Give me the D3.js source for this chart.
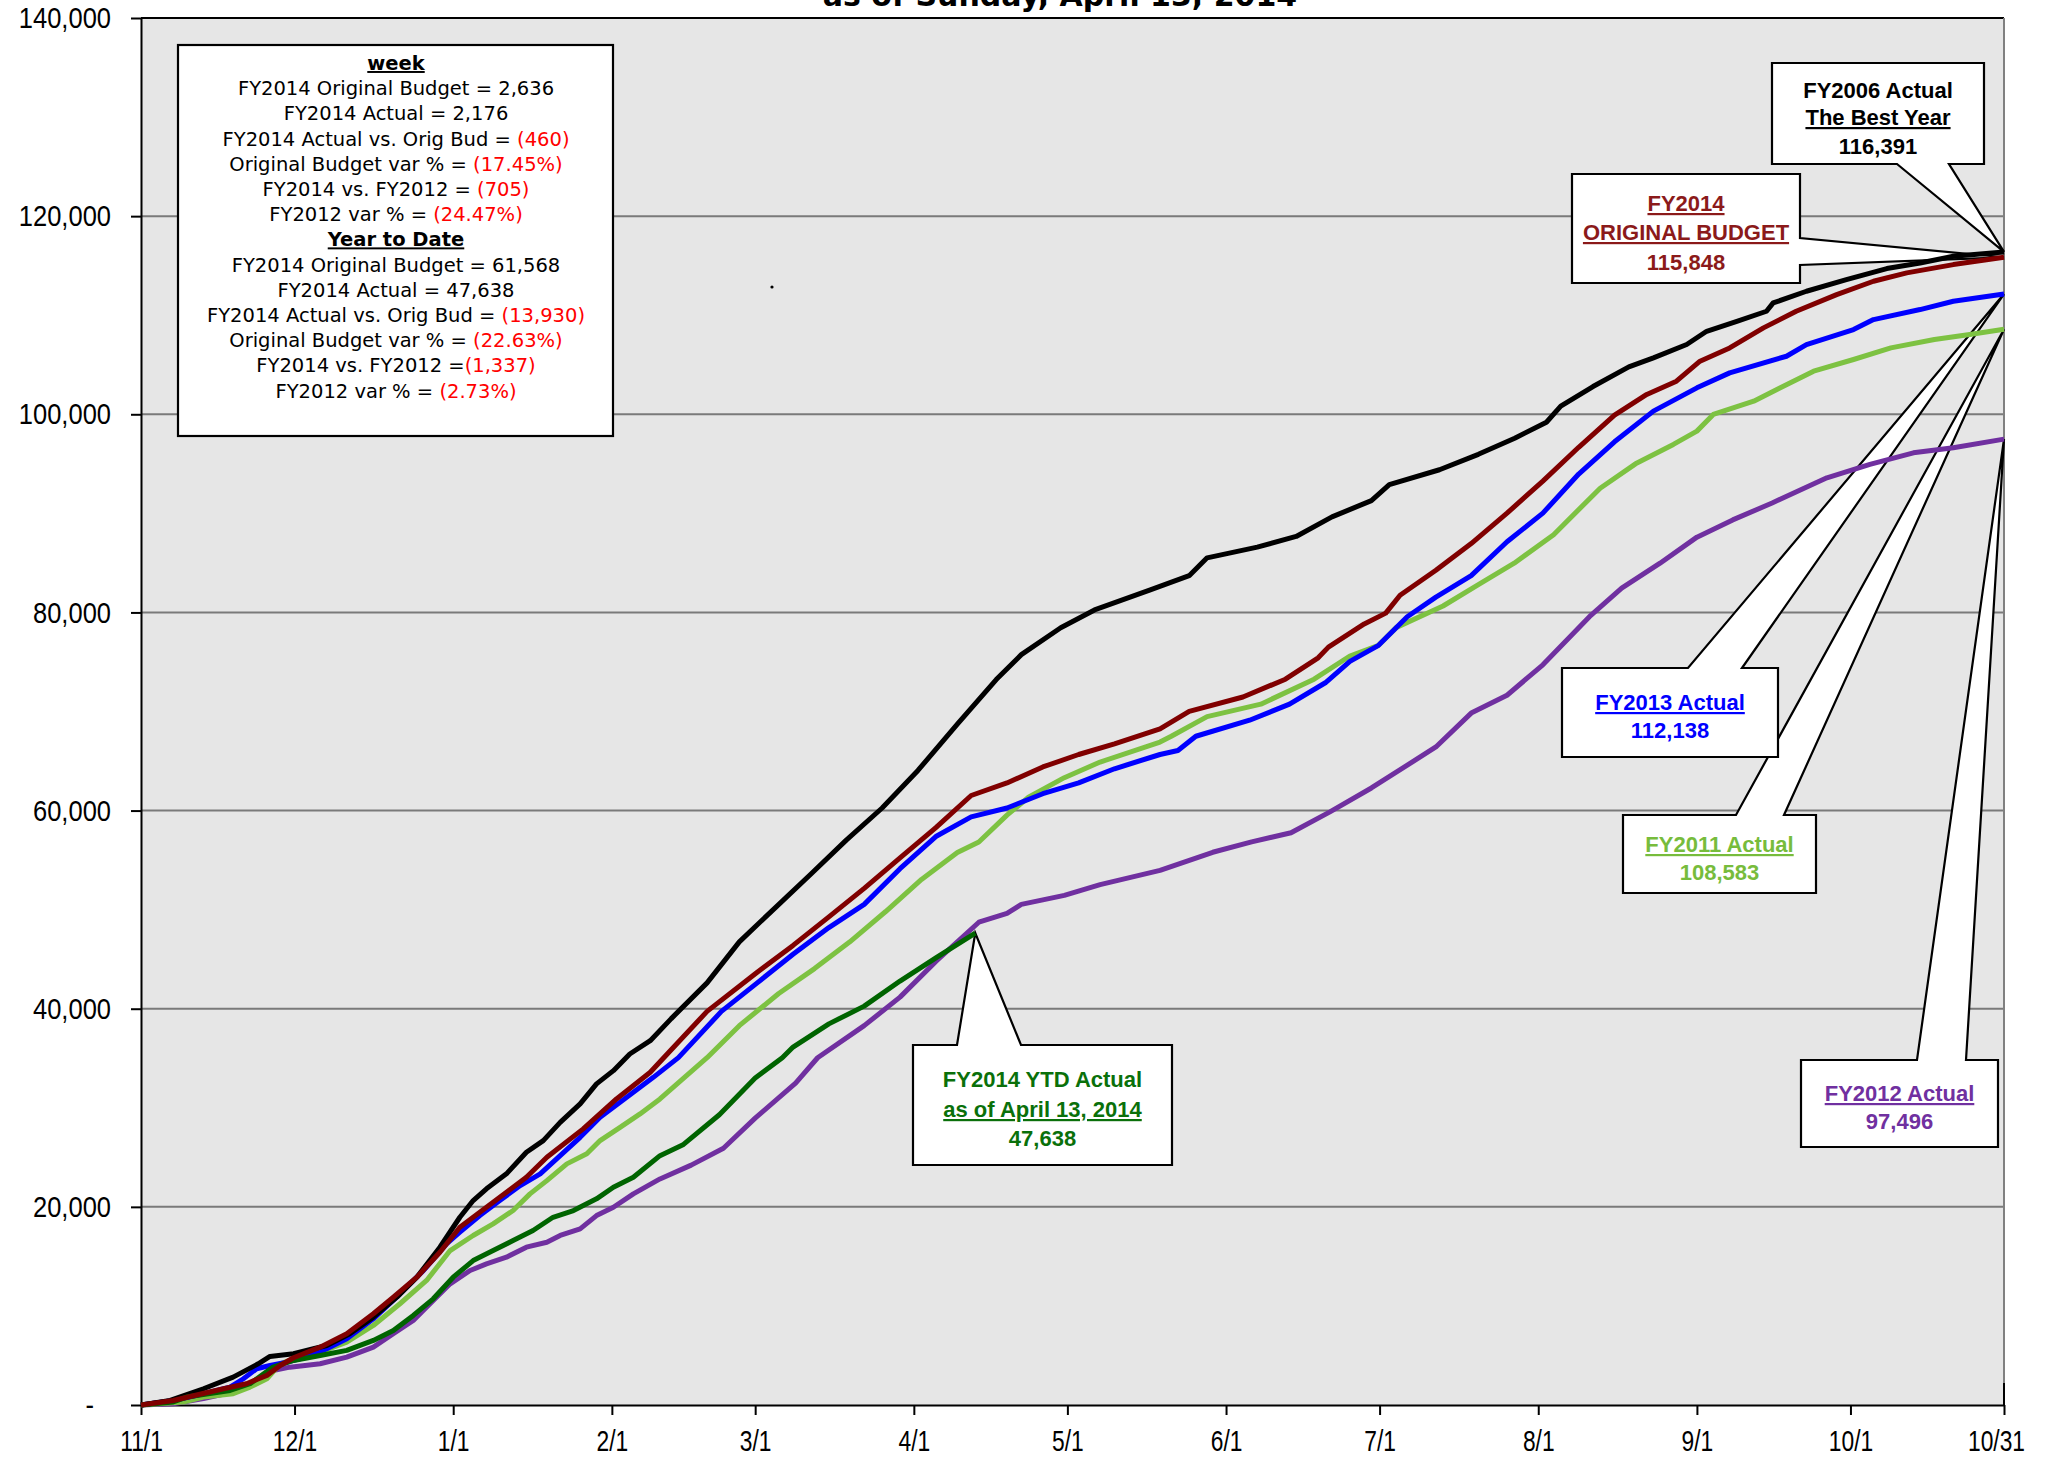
<!DOCTYPE html>
<meta charset="utf-8">
<head>
  <style>
    body { margin: 0; background: #fff; }
    .tick text {
      font-family: "Liberation Sans", Arial, sans-serif;
      font-size: 30px;
      fill: #000;
    }
    .info text {
      font-family: "DejaVu Sans", sans-serif;
      font-size: 19.5px;
      fill: #000;
    }
    .callout text {
      font-family: "Liberation Sans", Arial, sans-serif;
      font-size: 22px;
      font-weight: bold;
    }
    .title {
      font-family: "DejaVu Sans", sans-serif;
      font-size: 30px;
      font-weight: bold;
    }
  </style>
</head>
<script src="https://d3js.org/d3.v7.min.js"></script>
<div id="my_chart"></div>
<script>
// fiscal year runs 11/1 .. 10/31, x = days since 11/1
const monthDays = [0, 30, 61, 92, 120, 151, 181, 212, 242, 273, 304, 334, 364];
const monthLabels = ["11/1", "12/1", "1/1", "2/1", "3/1", "4/1", "5/1", "6/1", "7/1", "8/1", "9/1", "10/1", "10/31"];
const yTicks = [0, 20000, 40000, 60000, 80000, 100000, 120000, 140000];

// cumulative values [day, total]
const fy2006 = [[0,0],[5.7,460],[12.2,1640],[18,2810],[22.9,4160],[25.2,4900],[29.8,5170],[33.7,5680],[36.3,6010],[40.8,7190],[45.4,8870],[50,10880],[53.9,12900],[58.4,15930],[62.3,18950],[64.9,20640],[67.5,21820],[71.4,23330],[75.3,25510],[78.6,26690],[81.9,28530],[85.8,30390],[89,32410],[92.3,33750],[95.5,35430],[99.5,36770],[103.6,39000],[110.6,42610],[116.9,46750],[123.9,50180],[130.9,53600],[137.8,57020],[144.8,60260],[151.8,64050],[159.5,68720],[167.1,73220],[172,75740],[179.7,78450],[186.3,80250],[197.2,82270],[204.8,83710],[208.3,85510],[218.1,86590],[225.7,87670],[232.7,89650],[240.4,91280],[243.9,92890],[253.7,94400],[261.3,95960],[268.4,97580],[274.6,99200],[277.4,100820],[283.7,102800],[290.7,104780],[295.5,105700],[302,107040],[305.9,108380],[311.8,109390],[317.6,110400],[318.9,111240],[325.4,112420],[333.2,113600],[341.1,114710],[347.6,115270],[354.1,115950],[364,116391]];
const fy2014Budget = [[0,0],[6.3,460],[16.1,1640],[20.6,2150],[24.6,2990],[27.2,3990],[29.8,4770],[35,5840],[40.2,7190],[45.4,9210],[49.3,10880],[53.9,12900],[58.4,15420],[62.3,17940],[68.8,20460],[75.3,22990],[79.3,25000],[86.4,27870],[92.9,30890],[99.5,33580],[101.5,34700],[110.6,39730],[120.4,43690],[127.4,46390],[134.4,49270],[141.3,52150],[148.3,55220],[155.3,58280],[162.2,61520],[169.2,62790],[176.2,64400],[183.2,65660],[190.2,66740],[199.1,68250],[204.8,70020],[215.3,71460],[223.6,73260],[230,75420],[232,76500],[239,78840],[243.2,79930],[246,81730],[253,84250],[259.9,86950],[266.9,90020],[273.9,93260],[280.9,96670],[287.9,99920],[294.2,102000],[300,103340],[304.6,105360],[310.4,106700],[317,108720],[323.4,110400],[331.3,112080],[338.5,113430],[345,114270],[354.1,115110],[364,115848]];
const fy2013 = [[0,0],[6.3,460],[12.2,1140],[17.4,1810],[20,2650],[22.6,3660],[25.2,3990],[28.5,4330],[32.4,4830],[36.3,5680],[40.2,6690],[45.4,8700],[50.6,11220],[55.2,13580],[59.7,16270],[62.3,17440],[66.2,19120],[70.1,20640],[74.1,22150],[78,23330],[81.9,25170],[85.8,27020],[89.7,29040],[96.2,31560],[100.1,33070],[105,35060],[113.4,39730],[120.4,42610],[127.4,45490],[134.4,48190],[141.3,50530],[148.3,54130],[155.3,57380],[162.2,59360],[169.2,60260],[176.2,61700],[183.2,62790],[190.2,64220],[199.1,65660],[202.6,66060],[206.1,67500],[216.6,69120],[224.4,70740],[231.4,72900],[236.2,75060],[241.8,76680],[247.4,79560],[253,81540],[259.9,83710],[266.9,87130],[273.9,90020],[280.9,93970],[287.9,97220],[295.5,100320],[304,102670],[310.4,104180],[321.5,105860],[325.4,107040],[334.6,108550],[338.5,109560],[347.6,110570],[354.1,111410],[364,112138]];
const fy2011 = [[0,0],[8.3,300],[12.2,800],[18,1140],[21.3,1810],[24.6,2650],[27.2,4160],[29.8,4670],[35,5340],[40.2,6350],[45.4,8030],[50.6,10220],[55.8,12570],[60.4,15590],[64.9,17110],[68.8,18290],[72.7,19630],[76,21310],[79.3,22650],[83.2,24340],[87.1,25350],[89.7,26690],[93.6,28030],[97.5,29380],[101.4,30890],[110.6,35060],[116.9,38290],[124.6,41530],[131.6,44050],[138.5,46750],[145.5,49810],[152.5,53050],[159.5,55760],[163.7,56830],[169.2,59540],[173.4,61340],[180.4,63320],[187.4,64900],[199.1,66920],[201.3,67500],[208.3,69480],[218.8,70740],[229.2,73260],[236.2,75600],[241.8,76680],[245.3,78490],[254.4,80650],[261.3,82810],[268.3,84970],[276,87850],[285.1,92540],[292,95000],[299.4,96960],[304,98300],[307.2,99980],[315.1,101320],[320.3,102670],[326.8,104350],[334.6,105530],[341.9,106700],[350.4,107550],[357.3,108050],[364,108583]];
const fy2012 = [[0,0],[6.3,130],[12.2,640],[18,1310],[22.6,2480],[25.8,3490],[29.1,3820],[35,4160],[40.2,4830],[45.4,5840],[49.3,7190],[53.2,8530],[57.1,10550],[60.4,12230],[64.3,13580],[67.5,14250],[71.4,14920],[75.3,15930],[79.3,16430],[81.9,17110],[85.8,17780],[89,19120],[92.3,19960],[96.2,21310],[101.4,22820],[107.5,24210],[113.8,25920],[120,28950],[127.9,32500],[132.2,35050],[141.3,38290],[148.3,41170],[155.3,44770],[163.7,48730],[169.2,49630],[172,50530],[180.4,51440],[187.4,52520],[199.1,53960],[209.4,55790],[217,56840],[224.7,57760],[232.3,59870],[240.4,62280],[253,66420],[259.9,69840],[266.9,71640],[273.9,74710],[283,79570],[289.3,82450],[296.8,84970],[304,87600],[311,89340],[318.7,91050],[329.4,93590],[337.8,94940],[346.3,96110],[354.1,96620],[364,97496]];
const fy2014 = [[0,0],[6.3,300],[8.9,800],[17.4,1470],[21.3,2150],[25.8,3820],[29.8,4500],[35,5000],[40.2,5510],[45.4,6520],[49.3,7520],[53.2,9040],[57.1,10720],[61,12900],[64.9,14580],[68.8,15590],[72.7,16600],[76.6,17610],[80.5,18950],[84.5,19630],[89,20810],[92.3,21980],[96.2,22990],[101.4,25170],[106,26300],[113,29300],[120,33000],[125.3,35050],[127.4,36130],[134.4,38470],[141.3,40260],[148.3,42790],[155.3,45130],[163,47638]];

// info box text: [left part, red part]
const weekLines = [
  ["FY2014 Original Budget = 2,636", ""],
  ["FY2014 Actual = 2,176", ""],
  ["FY2014 Actual vs. Orig Bud = ", "(460)"],
  ["Original Budget var % = ", "(17.45%)"],
  ["FY2014 vs. FY2012 = ", "(705)"],
  ["FY2012 var % = ", "(24.47%)"]
];
const ytdLines = [
  ["FY2014 Original Budget = 61,568", ""],
  ["FY2014 Actual = 47,638", ""],
  ["FY2014 Actual vs. Orig Bud = ", "(13,930)"],
  ["Original Budget var % = ", "(22.63%)"],
  ["FY2014 vs. FY2012 =", "(1,337)"],
  ["FY2012 var % = ", "(2.73%)"]
];

const WIDTH = 2045;
const HEIGHT = 1457;
const LEFT = 141, RIGHT = 2004, TOP = 18, BOTTOM = 1405;

var svg = d3.select("#my_chart")
  .append("svg")
  .attr("width", WIDTH)
  .attr("height", HEIGHT);

var x = d3.scaleLinear().domain([0, 364]).range([LEFT, RIGHT]);
var y = d3.scaleLinear().domain([0, 140000]).range([BOTTOM, TOP]);

// title (top of it is cut off in the original)
svg.append("text")
  .attr("class", "title")
  .attr("x", 1060)
  .attr("y", 6)
  .attr("text-anchor", "middle")
  .text("as of Sunday, April 13, 2014");

// plot area
svg.append("rect")
  .attr("x", x(0)).attr("y", y(140000))
  .attr("width", x(364) - x(0)).attr("height", y(0) - y(140000))
  .attr("fill", "#e6e6e6");

svg.append("g")
  .selectAll("line")
  .data(yTicks.filter(d => d > 0 && d < 140000))
  .join("line")
  .attr("x1", x(0)).attr("x2", x(364))
  .attr("y1", d => y(d)).attr("y2", d => y(d))
  .attr("stroke", "#7a7a7a")
  .attr("stroke-width", 2);

svg.append("line")
  .attr("x1", x(0)).attr("x2", x(364))
  .attr("y1", y(140000)).attr("y2", y(140000))
  .attr("stroke", "#000").attr("stroke-width", 2);
svg.append("line")
  .attr("x1", x(364)).attr("x2", x(364))
  .attr("y1", y(140000)).attr("y2", y(0))
  .attr("stroke", "#808080").attr("stroke-width", 2);

// stray dot in the original plot
svg.append("circle")
  .attr("cx", 772).attr("cy", 287).attr("r", 1.6)
  .attr("fill", "#000");

// narrow the tick labels, the original uses a condensed face
function squeeze(sel, k) {
  sel.each(function() {
    const len = this.getComputedTextLength();
    d3.select(this)
      .attr("textLength", len * k)
      .attr("lengthAdjust", "spacingAndGlyphs");
  });
}

// axes
var yAxis = d3.axisLeft(y)
  .tickValues(yTicks)
  .tickSize(10)
  .tickSizeOuter(0)
  .tickPadding(20)
  .tickFormat(d => d === 0 ? "-" : d3.format(",")(d));

svg.append("g")
  .attr("transform", `translate(${x(0)},0)`)
  .call(yAxis)
  .call(g => g.select(".domain").attr("stroke-width", 2))
  .call(g => g.selectAll(".tick line").attr("stroke-width", 2))
  .call(g => g.selectAll(".tick text").call(squeeze, 0.85))
  .call(g => g.selectAll(".tick text").filter(d => d === 0).attr("dx", -17));

var xAxis = d3.axisBottom(x)
  .tickValues(monthDays)
  .tickSize(10)
  .tickSizeOuter(0)
  .tickPadding(15)
  .tickFormat((d, i) => monthLabels[i]);

svg.append("g")
  .attr("transform", `translate(0,${y(0)})`)
  .call(xAxis)
  .call(g => g.select(".domain").attr("stroke-width", 2))
  .call(g => g.selectAll(".tick line").attr("stroke-width", 2))
  .call(g => g.selectAll(".tick text").call(squeeze, 0.76))
  .call(g => g.selectAll(".tick text").filter(d => d === 364).attr("dx", -8));

// last tick also pokes up into the plot
svg.append("line")
  .attr("x1", x(364)).attr("x2", x(364))
  .attr("y1", y(0) - 22).attr("y2", y(0))
  .attr("stroke", "#000").attr("stroke-width", 2);

// callouts (speech bubbles pointing at the end of each series)
function bubblePath(b, tx, ty) {
  if (b.side === "top")
    return `M${b.x0},${b.y0}H${b.a}L${tx},${ty}L${b.b},${b.y0}H${b.x1}V${b.y1}H${b.x0}Z`;
  if (b.side === "bottom")
    return `M${b.x0},${b.y0}H${b.x1}V${b.y1}H${b.b}L${tx},${ty}L${b.a},${b.y1}H${b.x0}Z`;
  return `M${b.x0},${b.y0}H${b.x1}V${b.a}L${tx},${ty}L${b.x1},${b.b}V${b.y1}H${b.x0}Z`;
}

const fmt = d3.format(",");
const last = arr => arr[arr.length - 1];

var callouts = [
  { data: fy2011, color: "#77bc3c", box: {x0: 1623, y0: 815, x1: 1816, y1: 893, side: "top", a: 1736, b: 1784},
    lines: [["FY2011 Actual", true, 844], [null, false, 872]] },
  { data: fy2013, color: "#0000ff", box: {x0: 1562, y0: 668, x1: 1778, y1: 757, side: "top", a: 1688, b: 1742},
    lines: [["FY2013 Actual", true, 702], [null, false, 730]] },
  { data: fy2012, color: "#7030a0", box: {x0: 1801, y0: 1060, x1: 1998, y1: 1147, side: "top", a: 1917, b: 1966},
    lines: [["FY2012 Actual", true, 1093], [null, false, 1121]] },
  { data: fy2014Budget, color: "#8b1a1a", box: {x0: 1572, y0: 174, x1: 1800, y1: 283, side: "right", a: 238, b: 265},
    lines: [["FY2014", true, 203], ["ORIGINAL BUDGET", true, 232], [null, false, 262]] },
  { data: fy2006, color: "#000", box: {x0: 1772, y0: 63, x1: 1984, y1: 164, side: "bottom", a: 1897, b: 1949},
    lines: [["FY2006 Actual", false, 90], ["The Best Year", true, 117], [null, false, 146]] },
  { data: fy2014, color: "#0a700a", box: {x0: 913, y0: 1045, x1: 1172, y1: 1165, side: "top", a: 957, b: 1021},
    lines: [["FY2014 YTD Actual", false, 1079], ["as of April 13, 2014", true, 1109], [null, false, 1138]] }
];

var cg = svg.append("g").attr("class", "callout");
callouts.forEach(c => {
  const end = last(c.data);
  cg.append("path")
    .attr("d", bubblePath(c.box, x(end[0]), y(end[1])))
    .attr("fill", "#fff")
    .attr("stroke", "#000")
    .attr("stroke-width", 2.2)
    .attr("stroke-linejoin", "miter");
  const cx = (c.box.x0 + c.box.x1) / 2;
  c.lines.forEach(l => {
    cg.append("text")
      .attr("x", cx)
      .attr("y", l[2] + 8)
      .attr("text-anchor", "middle")
      .attr("fill", c.color)
      .style("text-decoration", l[1] ? "underline" : "none")
      .text(l[0] === null ? fmt(end[1]) : l[0]);
  });
});

// the series lines
var series = [
  { data: fy2012, color: "#7030a0" },
  { data: fy2011, color: "#7dc242" },
  { data: fy2013, color: "#0000ff" },
  { data: fy2006, color: "#000000" },
  { data: fy2014, color: "#006400" },
  { data: fy2014Budget, color: "#800000" }
];

var line = d3.line()
  .x(d => x(d[0]))
  .y(d => y(d[1]));

svg.append("g")
  .selectAll("path")
  .data(series)
  .join("path")
  .attr("d", d => line(d.data))
  .attr("fill", "none")
  .attr("stroke", d => d.color)
  .attr("stroke-width", 5)
  .attr("stroke-linejoin", "round")
  .attr("stroke-linecap", "butt");

// info box
var info = svg.append("g").attr("class", "info");
info.append("rect")
  .attr("x", 178).attr("y", 45)
  .attr("width", 435).attr("height", 391)
  .attr("fill", "#fff")
  .attr("stroke", "#000")
  .attr("stroke-width", 2.2);

var infoRows = [["week", "head"]]
  .concat(weekLines)
  .concat([["Year to Date", "head"]])
  .concat(ytdLines);

infoRows.forEach((r, i) => {
  const t = info.append("text")
    .attr("x", 396)
    .attr("y", 63 + i * 25.2 + 7)
    .attr("text-anchor", "middle");
  if (r[1] === "head") {
    t.attr("font-weight", "bold")
      .style("text-decoration", "underline")
      .text(r[0]);
  } else {
    t.append("tspan").text(r[0]);
    if (r[1]) t.append("tspan").attr("fill", "#ff0000").text(r[1]);
  }
});
</script>
